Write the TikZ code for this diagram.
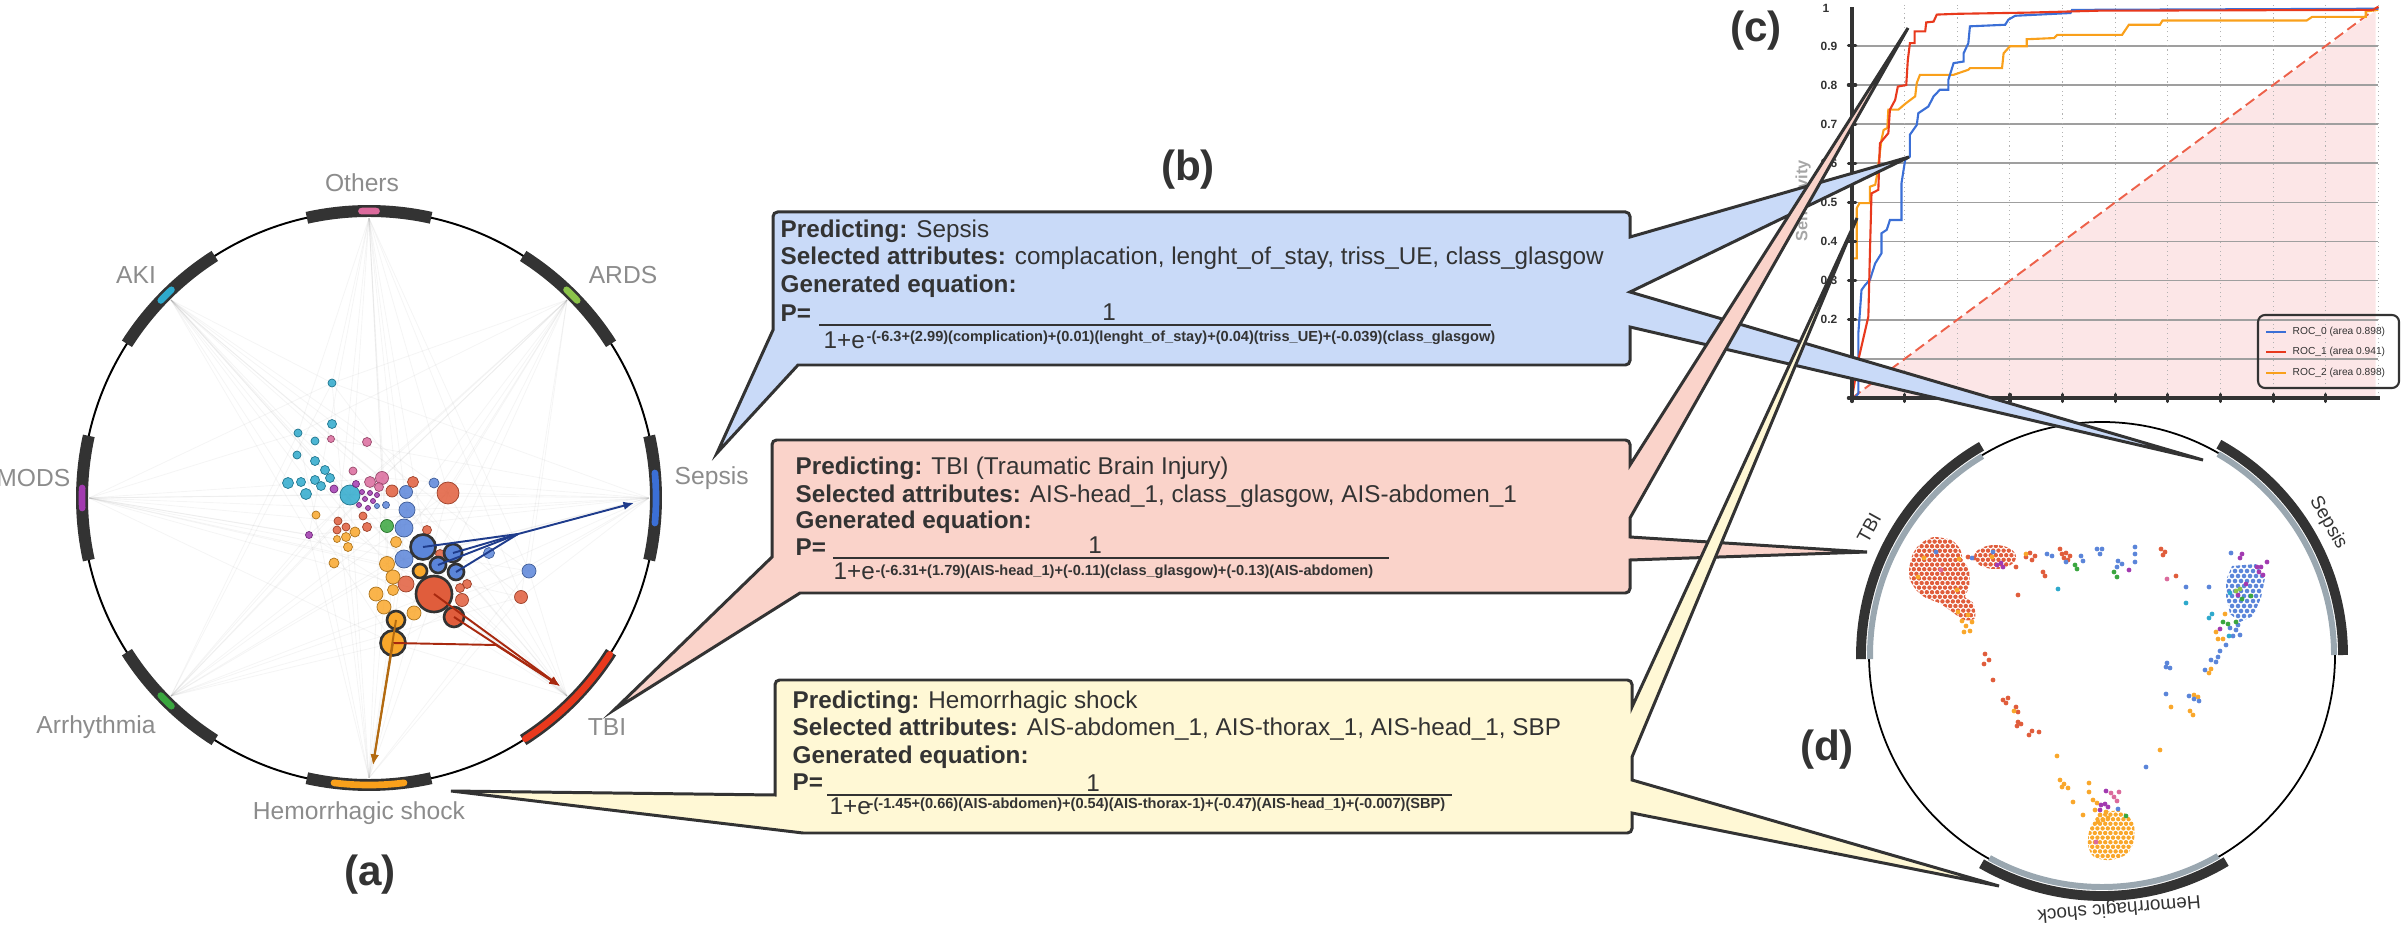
\documentclass[tikz,border=0pt]{standalone}
\usepackage{fontspec}
\setmainfont{Liberation Sans}
\usetikzlibrary{arrows.meta,positioning,calc}

\definecolor{ink}{HTML}{333333}
\definecolor{labelgray}{HTML}{8C8C8C}
\definecolor{dotred}{HTML}{E05D3C}
\definecolor{dotblue}{HTML}{5B85D9}
\definecolor{dotorange}{HTML}{F9A72B}
\definecolor{dotcyan}{HTML}{2EA9CC}
\definecolor{dotpink}{HTML}{DB6A9C}
\definecolor{dotpurple}{HTML}{A23AB0}
\definecolor{dotgreen}{HTML}{3AA63F}
\definecolor{dotlime}{HTML}{8BC34A}
\definecolor{boxblue}{HTML}{C9DAF8}
\definecolor{boxred}{HTML}{FAD3CA}
\definecolor{boxyellow}{HTML}{FFF8D5}
\definecolor{arcgray}{HTML}{9AA7B0}
\definecolor{rocblue}{HTML}{3B6FD6}
\definecolor{rocred}{HTML}{E8391D}
\definecolor{rocorange}{HTML}{F9A01B}
\definecolor{shadepink}{HTML}{FCE6E7}
\definecolor{navy}{HTML}{1F3C8C}
\definecolor{darkred}{HTML}{A8290F}
\definecolor{brownish}{HTML}{B36A10}

\tikzset{
  lbl/.style={text=labelgray, font=\fontsize{7}{8}\selectfont, inner sep=0pt},
  panel/.style={text=ink, font=\fontsize{12}{14}\selectfont\bfseries, inner sep=0pt},
  boxtext/.style={text=ink, font=\fontsize{6.9}{8}\selectfont, inner sep=0pt, anchor=base west},
  exptext/.style={text=ink, font=\fontsize{4.15}{5}\selectfont\bfseries, inner sep=0pt, anchor=base west},
  fracline/.style={draw=ink, line width=0.55pt},
  calloutbox/.style={draw=ink, line width=0.85pt},
  catarc/.style={draw=ink, line width=3.4pt},
  hit/.style={draw=#1, line width=1.9pt, line cap=round},
  faint/.style={draw=gray, opacity=0.08, line width=0.25pt},
  bubble/.style={fill=#1, draw=#1!70!black, line width=0.2pt, fill opacity=0.85},
  picked/.style={fill=#1, draw=ink, line width=0.75pt},
  pull/.style={draw=#1, line width=0.55pt, -{Latex[length=3pt,width=2.4pt]}},
  spot/.style={fill=#1},
  darc/.style={draw=ink, line width=2.8pt},
  garc/.style={draw=arcgray, line width=1.7pt},
  hgrid/.style={draw=gray!75, line width=0.45pt},
  vgrid/.style={draw=gray!60, line width=0.3pt, densely dotted},
  diag/.style={draw=rocred!80, line width=0.55pt, dash pattern=on 3pt off 1.5pt},
  roc/.style={draw=#1, line width=0.6pt},
  axisline/.style={draw=ink, line width=1.15pt},
  tickmark/.style={draw=ink, line width=0.9pt, line cap=round},
  ticklbl/.style={text=ink, font=\fontsize{3.4}{4}\selectfont\bfseries, inner sep=0pt},
  leg/.style={text=ink, font=\fontsize{2.9}{3.5}\selectfont, inner sep=0pt, anchor=west},
  dlbl/.style={text=ink, font=\fontsize{5.4}{6}\selectfont, inner sep=0pt},
}

\begin{document}
\begin{tikzpicture}[x=0.01cm, y=0.01cm]
  \useasboundingbox (0,0) rectangle (2407,-928);

  % (c) ROC chart
  \begin{scope}[shift={(1852,-398)}, x=5.26cm, y=3.91cm]
    \fill[shadepink] (0,0) -- (0.995,0.99) -- (0.995,0) -- cycle;
    \foreach \v in {0.1,0.2,...,0.9} \draw[hgrid] (0,\v) -- (1,\v);
    \foreach \u in {0.1,0.2,...,1.0} \draw[vgrid] (\u,0) -- (\u,1.005);
    \draw[diag] (0,0) -- (1,1);
    \draw[roc=rocorange] plot coordinates {(0,0) (0,0.357) (0.009,0.357) (0.009,0.485) (0.014,0.498) (0.034,0.498) (0.034,0.54) (0.044,0.545) (0.047,0.566) (0.056,0.66) (0.06,0.685) (0.067,0.69) (0.069,0.737) (0.088,0.737) (0.103,0.754) (0.12,0.771) (0.123,0.805) (0.129,0.826) (0.193,0.826) (0.221,0.839) (0.224,0.843) (0.285,0.843) (0.288,0.881) (0.3,0.899) (0.332,0.899) (0.332,0.917) (0.384,0.92) (0.39,0.928) (0.513,0.928) (0.526,0.954) (0.585,0.954) (0.59,0.965) (0.864,0.965) (0.874,0.974) (0.976,0.974) (0.976,0.988) (1,0.992)};
    \draw[roc=rocblue] plot coordinates {(0.005,0) (0.012,0.012) (0.012,0.165) (0.018,0.276) (0.025,0.289) (0.034,0.302) (0.044,0.344) (0.056,0.37) (0.056,0.421) (0.066,0.43) (0.072,0.455) (0.094,0.455) (0.094,0.549) (0.101,0.609) (0.11,0.617) (0.11,0.673) (0.123,0.698) (0.126,0.728) (0.145,0.745) (0.155,0.771) (0.167,0.788) (0.183,0.788) (0.183,0.813) (0.193,0.856) (0.212,0.86) (0.212,0.881) (0.221,0.907) (0.224,0.95) (0.291,0.954) (0.297,0.967) (0.31,0.977) (0.415,0.984) (0.418,0.992) (1,0.995)};
    \draw[roc=rocred] plot coordinates {(0,0) (0.012,0.097) (0.031,0.208) (0.034,0.37) (0.037,0.523) (0.05,0.532) (0.053,0.651) (0.069,0.677) (0.072,0.737) (0.082,0.762) (0.087,0.796) (0.103,0.8) (0.106,0.864) (0.11,0.907) (0.119,0.907) (0.119,0.937) (0.139,0.937) (0.141,0.96) (0.155,0.962) (0.161,0.98) (0.2,0.982) (0.334,0.985) (0.469,0.99) (0.99,0.992) (1,1)};
    \draw[axisline] (0,-0.005) -- (0,1.0);
    \draw[axisline] (0,0) -- (1.003,0);
    \foreach \v in {0,0.1,...,1.0} \draw[tickmark] (-0.007,\v) -- (0.007,\v);
    \foreach \u in {0,0.1,...,1.0} \draw[tickmark] (\u,-0.009) -- (\u,0.009);
  \end{scope}
  \node[ticklbl] (yt10) at (1826,-8) {1};
  \foreach \t [count=\k] in {0.9,0.8,0.7,0.6,0.5,0.4,0.3,0.2}
    \node[ticklbl, anchor=east] (yt\k) at (1838,{-398+391*\t}) {\t};
  \node[text=gray!70, font=\fontsize{4.65}{5}\selectfont\bfseries, inner sep=0pt, rotate=90] (sens) at (1803,-201) {Sensitivity};
  \draw[draw=ink, line width=0.6pt, rounded corners=2pt] (2258,-315) rectangle (2399,-388);
  \draw[roc=rocblue, line width=0.7pt] (2266,-332) -- (2286,-332);
  \draw[roc=rocred, line width=0.7pt] (2266,-352) -- (2286,-352);
  \draw[roc=rocorange, line width=0.7pt] (2266,-373) -- (2286,-373);
  \node[leg] (leg0) at (2292,-332) {ROC\_0 (area 0.898)};
  \node[leg] (leg1) at (2292,-352) {ROC\_1 (area 0.941)};
  \node[leg] (leg2) at (2292,-373) {ROC\_2 (area 0.898)};

  % (d) projection circle
  \coordinate (D) at (2102,-655);
  \draw[line width=0.5pt] (D) circle[radius=233];
  \draw[darc] (D) ++(120:241) arc[start angle=120, end angle=181, radius=241];
  \draw[darc] (D) ++(0:241) arc[start angle=0, end angle=61, radius=241];
  \draw[darc] (D) ++(-120:241) arc[start angle=-120, end angle=-59, radius=241];
  \draw[garc] (D) ++(121:232) arc[start angle=121, end angle=181, radius=232];
  \draw[garc] (D) ++(0:232) arc[start angle=0, end angle=60, radius=232];
  \draw[garc] (D) ++(-119:232) arc[start angle=-119, end angle=-60, radius=232];
  \node[dlbl, rotate=61] (dTBI) at (1869,-528) {TBI};
  \node[dlbl, rotate=-60] (dSepsis) at (2328,-523) {Sepsis};
  \node[dlbl, rotate=185] (dHem) at (2119,-908) {Hemorrhagic shock};

  \begin{scope}
    \clip plot[smooth cycle] coordinates {(1934,-537) (1951,-540) (1960,-549) (1963,-560) (1969,-570) (1969,-587) (1965,-597) (1973,-603) (1975,-618) (1964,-620) (1951,-611) (1939,-603) (1926,-598) (1917,-591) (1910,-580) (1909,-570) (1912,-556) (1918,-546) (1926,-540)};
    \foreach \j in {0,...,20} \foreach \i in {0,...,14}
      \fill[spot=dotred] ({1906+5.2*\i+2.6*mod(\j,2)},{-537-4.6*\j}) circle[radius=2.2];
  \end{scope}
  \begin{scope}
    \clip (1995,-557) ellipse[x radius=21, y radius=12];
    \foreach \j in {0,...,5} \foreach \i in {0,...,8}
      \fill[spot=dotred] ({1975+5.2*\i+2.6*mod(\j,2)},{-546-4.6*\j}) circle[radius=2.2];
  \end{scope}
  \begin{scope}
    \clip (2232,-566) -- (2256,-564) -- (2265,-578) -- (2261,-598) -- (2253,-616) -- (2240,-622) -- (2230,-614) -- (2226,-596) -- (2226,-580) -- cycle;
    \foreach \j in {0,...,11} \foreach \i in {0,...,7}
      \fill[spot=dotblue] ({2226+6*\i+3*mod(\j,2)},{-566-5*\j}) circle[radius=2.3];
  \end{scope}
  \begin{scope}
    \clip plot[smooth cycle] coordinates {(2100,-814) (2120,-811) (2133,-822) (2134,-840) (2127,-854) (2110,-860) (2094,-857) (2088,-845) (2090,-828)};
    \foreach \j in {0,...,11} \foreach \i in {0,...,9}
      \fill[spot=dotorange] ({2087+5.2*\i+2.6*mod(\j,2)},{-810-4.6*\j}) circle[radius=2.2];
  \end{scope}
  \foreach \x/\y in {1968/557,1974/558,2026/557,2032/560,2035/556,2030/553,2043/572,2045/576,2060/549,2062/554,2066/553,2070/556,2068/560,2064/558,2161/549,2165/552,2163/555,2176/576,2018/595,2016/567,1985/654,1989/660,1984/664,1993/680,2003/700,2008/698,2006/703,2016/707,2018/712,2018/722,2021/724,2017/726,2029/735,2032/731,2039/732}
    \fill[spot=dotred] (\x,-\y) circle[radius=2.4];
  \foreach \x/\y in {2026/554,1992/557,1924/558,1918/577,1957/590,1959/559,2014/711,2057/756,2160/750,2171/707,2190/711,2193/715,2194/695,2198/697,2209/673,2211/669,2216/632,2218/639,2223/639,2225/614,1962/621,1966/626,1970/631,1964/632,1972/622,1968/615,1958/612,2060/780,2064/784,2068/788,2062/787,2089/783,2089/792,2073/802,2083/815,2093/800,2097/803,2095/810,2100/815,2103/820,2098/822,2108/818,2106/812}
    \fill[spot=dotorange] (\x,-\y) circle[radius=2.4];
  \foreach \x/\y in {1993/552,2047/554,2052/556,2066/562,2081/556,2083/561,2097/549,2100/554,2102/549,2118/561,2122/564,2117/567,2135/547,2135/554,2135/562,1936/552,1972/558,2186/587,2209/587,2167/663,2170/668,2166/667,2166/694,2189/696,2194/699,2199/701,2146/767,2231/553,2220/651,2211/660,2216/662,2218/657,2205/670,2118/809,2230/628,2236/630,2233/636,2240/635,2238/625,2226/645}
    \fill[spot=dotblue] (\x,-\y) circle[radius=2.4];
  \foreach \x/\y in {2075/565,2077/569,2114/572,2117/577,2223/622,2228/624,2236/622,2251/596,2242/599,2126/816}
    \fill[spot=dotgreen] (\x,-\y) circle[radius=2.4];
  \foreach \x/\y in {2001/563,2003/567,1997/565,2129/570,2242/554,2240/558,2257/567,2261/567,2267/562,2263/575,2259/572,2246/584,2238/595,2220/629,2106/791,2101/805,2105/804,2108/807,2100/810}
    \fill[spot=dotpurple] (\x,-\y) circle[radius=2.4];
  \foreach \x/\y in {2058/589,2186/603,2209/618,2212/614,2229/636,2230/593}
    \fill[spot=dotcyan] (\x,-\y) circle[radius=2.4];
  \foreach \x/\y in {2167/579,1941/570,2111/793,2114/797,2117/801,2096/842,2119/792}
    \fill[spot=dotpink] (\x,-\y) circle[radius=2.4];
  \foreach \x/\y in {2236/591,2240/589}
    \fill[spot=dotlime] (\x,-\y) circle[radius=2.4];

  % (a) radial view
  \coordinate (C) at (369,-498);
  \foreach \a in {90,45,0,-45,-90,-135,180,135}
    \foreach \tx/\ty in {332/383,298/433,350/495,382/478,407/510,404/559,434/594,393/643,448/493,338/521,529/571,521/597,387/564,309/535}
      \draw[faint] (C) ++(\a:280) -- (\tx,-\ty);
  \draw[line width=0.55pt] (C) circle[radius=287];
  \foreach \a in {90,45,0,-45,-90,-135,180,135}
    \draw[catarc] (C) ++(\a-12.5:287) arc[start angle=\a-12.5, end angle=\a+12.5, radius=287];
  \draw[hit=dotpink] (C) ++(88.5:287) arc[start angle=88.5, end angle=91.5, radius=287];
  \draw[hit=dotlime] (C) ++(43.5:287) arc[start angle=43.5, end angle=46.5, radius=287];
  \draw[hit=dotcyan] (C) ++(133.5:287) arc[start angle=133.5, end angle=136.5, radius=287];
  \draw[hit=dotpurple] (C) ++(178:287) arc[start angle=178, end angle=182, radius=287];
  \draw[hit=dotgreen] (C) ++(-136.5:287) arc[start angle=-136.5, end angle=-133.5, radius=287];
  \draw[hit=rocblue] (C) ++(-5:287) arc[start angle=-5, end angle=5, radius=287];
  \draw[hit=rocred] (C) ++(-57:287) arc[start angle=-57, end angle=-33, radius=287];
  \draw[hit=rocorange] (C) ++(-97:287) arc[start angle=-97, end angle=-83, radius=287];

  \node[lbl] (aOthers) at (362,-183) {Others};
  \node[lbl] (aAKI) at (136,-275) {AKI};
  \node[lbl] (aARDS) at (623,-275) {ARDS};
  \node[lbl, anchor=east] (aMODS) at (71,-478) {MODS};
  \node[lbl, anchor=west] (aSepsis) at (674,-478) {Sepsis};
  \node[lbl] (aArr) at (96,-727) {Arrhythmia};
  \node[lbl] (aTBI) at (607,-727) {TBI};
  \node[lbl] (aHem) at (359,-813) {Hemorrhagic shock};

  \foreach \x/\y/\r in {332/383/4,332/424/4.5,298/433/4,315/441/4,297/455/4,315/461/4.5,325/470/4.5,330/478/4.5,288/483/5.5,301/482/4.5,315/480/4.5,321/486/4.5,306/494/5.5,350/495/10}
    \filldraw[bubble=dotcyan] (\x,-\y) circle[radius=\r];
  \foreach \x/\y/\r in {331/439/3.5,367/442/4.5,353/471/4,370/482/5.5,382/478/6.5,379/487/4.5}
    \filldraw[bubble=dotpink] (\x,-\y) circle[radius=\r];
  \foreach \x/\y/\r in {356/484/3.5,334/489/4,362/492/2.5,370/493/2.5,377/495/2.5,365/499/2.5,373/501/2.5,359/505/2.5,368/508/2.5,309/535/3.5}
    \filldraw[bubble=dotpurple] (\x,-\y) circle[radius=\r];
  \foreach \x/\y/\r in {377/506/2.5,386/505/3.5,406/492/6.5,434/483/5,407/510/8,404/528/9,404/559/9,489/553/5.5,529/571/7}
    \filldraw[bubble=dotblue] (\x,-\y) circle[radius=\r];
  \foreach \x/\y/\r in {413/482/5.5,392/491/6,448/493/11,363/516/4,367/527/4.5,338/521/4,346/527/4,337/530/4,427/530/4.5,440/554/4.5,406/584/8,467/584/4.5,462/600/6.5,460/588/4.5,521/597/6.5}
    \filldraw[bubble=dotred] (\x,-\y) circle[radius=\r];
  \foreach \x/\y/\r in {316/515/4,355/532/5,346/537/4.5,337/539/3.5,348/547/4.5,334/563/5,396/542/5.5,387/564/7.5,393/577/7,393/590/5.5,376/594/7,384/607/7,414/613/7}
    \filldraw[bubble=dotorange] (\x,-\y) circle[radius=\r];
  \filldraw[bubble=dotgreen] (387,-526) circle[radius=6.5];

  \coordinate (hb1) at (423,-547);
  \coordinate (hb2) at (453,-553);
  \coordinate (hb3) at (438,-565);
  \coordinate (hb4) at (456,-572);
  \coordinate (hr1) at (434,-594);
  \coordinate (hr2) at (454,-617);
  \coordinate (ho1) at (420,-571);
  \coordinate (ho2) at (396,-620);
  \coordinate (ho3) at (393,-643);
  \filldraw[picked=dotblue] (hb1) circle[radius=12.5];
  \filldraw[picked=dotblue] (hb2) circle[radius=9];
  \filldraw[picked=dotblue] (hb3) circle[radius=8];
  \filldraw[picked=dotblue] (hb4) circle[radius=8];
  \filldraw[picked=dotred] (hr1) circle[radius=18];
  \filldraw[picked=dotred] (hr2) circle[radius=10];
  \filldraw[picked=dotorange] (ho1) circle[radius=7];
  \filldraw[picked=dotorange] (ho2) circle[radius=9];
  \filldraw[picked=dotorange] (ho3) circle[radius=12.5];

  \coordinate (sepTip) at (634,-503);
  \coordinate (sepJoin) at (518,-534);
  \coordinate (tbiTip) at (560,-686);
  \coordinate (tbiBend) at (496,-645);
  \coordinate (hemTip) at (373,-765);
  \foreach \s in {hb1,hb2,hb3,hb4} \draw[draw=navy, line width=0.55pt] (\s) -- (sepJoin);
  \draw[pull=navy] (sepJoin) -- (sepTip);
  \draw[pull=darkred] (hr1) -- (tbiTip);
  \draw[pull=darkred] (hr2) -- (tbiTip);
  \draw[pull=darkred] (ho3) -- (tbiBend) -- (tbiTip);
  \draw[pull=brownish] (ho2) -- (hemTip);
  \draw[pull=brownish] (ho3) -- (hemTip);

  % (b) equation call-outs
  \filldraw[calloutbox, fill=boxblue] (773,-330) [rounded corners=1.3pt] -- (773,-212) -- (1630,-212) [sharp corners] -- (1630,-237) -- (1909,-157) -- (1630,-292) -- (2203,-460) -- (1630,-327) [rounded corners=1.3pt] -- (1630,-365) [sharp corners] -- (798,-365) -- (717,-453) -- cycle;
  \filldraw[calloutbox, fill=boxred] (772,-557) [rounded corners=1.3pt] -- (772,-440) -- (1630,-440) [sharp corners] -- (1630,-465) -- (1908,-28) -- (1630,-518) -- (1630,-537) -- (1867,-552) -- (1630,-560) [rounded corners=1.3pt] -- (1630,-593) [sharp corners] -- (800,-593) -- (614,-710) -- cycle;
  \filldraw[calloutbox, fill=boxyellow] (775,-795) [rounded corners=1.3pt] -- (775,-680) -- (1632,-680) [sharp corners] -- (1632,-707) -- (1857,-218) -- (1632,-757) -- (1632,-780) -- (1999,-886) -- (1632,-813) [rounded corners=1.3pt] -- (1632,-833) [sharp corners] -- (803,-833) -- (451,-791) -- cycle;

  \node[boxtext] (sepPred) at (780,-238) {\textbf{Predicting:} Sepsis};
  \node[boxtext] (sepAttr) at (780,-265) {\textbf{Selected attributes:} complacation, lenght\_of\_stay, triss\_UE, class\_glasgow};
  \node[boxtext] (sepGen) at (780,-293) {\textbf{Generated equation:}};
  \node[boxtext] (sepP) at (780,-322) {\textbf{P=}};
  \node[boxtext, anchor=base] (sepNum) at (1109,-321) {1};
  \draw[fracline] (819,-325) -- (1491,-325);
  \node[boxtext] (sepDen) at (823,-349) {1+e};
  \node[exptext] (sepExp) at (866,-342) {-(-6.3+(2.99)(complication)+(0.01)(lenght\_of\_stay)+(0.04)(triss\_UE)+(-0.039)(class\_glasgow)};

  \node[boxtext] (tbiPred) at (795,-475) {\textbf{Predicting:} TBI (Traumatic Brain Injury)};
  \node[boxtext] (tbiAttr) at (795,-502) {\textbf{Selected attributes:} AIS-head\_1, class\_glasgow, AIS-abdomen\_1};
  \node[boxtext] (tbiGen) at (795,-528) {\textbf{Generated equation:}};
  \node[boxtext] (tbiP) at (795,-555) {\textbf{P=}};
  \node[boxtext, anchor=base] (tbiNum) at (1095,-554) {1};
  \draw[fracline] (833,-558) -- (1389,-558);
  \node[boxtext] (tbiDen) at (833,-580) {1+e};
  \node[exptext] (tbiExp) at (875,-575) {-(-6.31+(1.79)(AIS-head\_1)+(-0.11)(class\_glasgow)+(-0.13)(AIS-abdomen)};

  \node[boxtext] (hemPred) at (792,-708) {\textbf{Predicting:} Hemorrhagic shock};
  \node[boxtext] (hemAttr) at (792,-735) {\textbf{Selected attributes:} AIS-abdomen\_1, AIS-thorax\_1, AIS-head\_1, SBP};
  \node[boxtext] (hemGen) at (792,-763) {\textbf{Generated equation:}};
  \node[boxtext] (hemP) at (792,-790) {\textbf{P=}};
  \node[boxtext, anchor=base] (hemNum) at (1093,-791) {1};
  \draw[fracline] (827,-795) -- (1452,-795);
  \node[boxtext] (hemDen) at (829,-814) {1+e};
  \node[exptext] (hemExp) at (868,-808) {-(-1.45+(0.66)(AIS-abdomen)+(0.54)(AIS-thorax-1)+(-0.47)(AIS-head\_1)+(-0.007)(SBP)};

  % panel letters
  \node[panel] (pa) at (370,-875) {(a)};
  \node[panel] (pb) at (1188,-170) {(b)};
  \node[panel] (pc) at (1756,-31) {(c)};
  \node[panel] (pd) at (1827,-750) {(d)};
\end{tikzpicture}
\end{document}
